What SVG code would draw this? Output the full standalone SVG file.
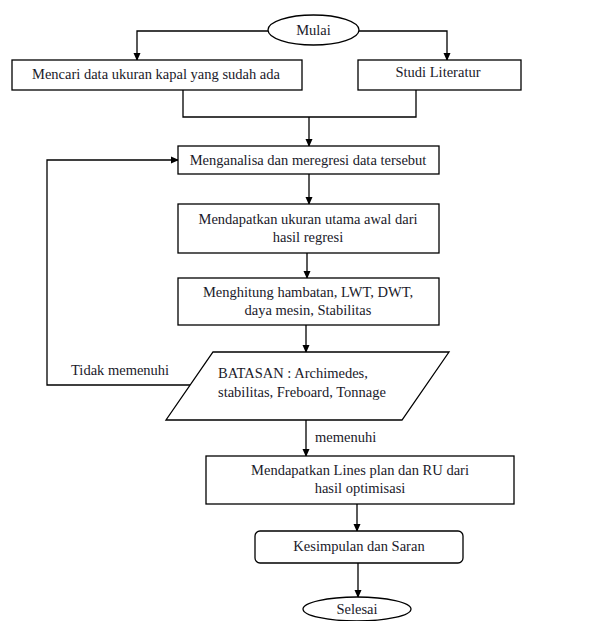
<svg xmlns="http://www.w3.org/2000/svg" width="614" height="621" viewBox="0 0 614 621">
<style>
.s{fill:#fff;stroke:#000;stroke-width:1.3}
.c{fill:none;stroke:#000;stroke-width:1.3}
text{font-family:"Liberation Serif","Times New Roman",serif;font-size:14.5px;fill:#1a1a2a}
.m{text-anchor:middle}
</style>
<defs>
<marker id="a" markerWidth="8" markerHeight="8" refX="7" refY="4" orient="auto" markerUnits="userSpaceOnUse">
<path d="M0,0.5 L8,4 L0,7.5 Z" fill="#000"/>
</marker>
</defs>
<rect width="614" height="621" fill="#fff"/>
<g id="connectors">
<polyline class="c" points="268,31 137,31 137,60" marker-end="url(#a)"/>
<polyline class="c" points="359,31 447,31 447,60" marker-end="url(#a)"/>
<polyline class="c" points="183,90 183,117 416,117 416,90"/>
<line class="c" x1="309" y1="117" x2="309" y2="146" marker-end="url(#a)"/>
<line class="c" x1="309" y1="174" x2="309" y2="204" marker-end="url(#a)"/>
<line class="c" x1="307" y1="253" x2="307" y2="278" marker-end="url(#a)"/>
<line class="c" x1="306" y1="325" x2="306" y2="352" marker-end="url(#a)"/>
<polyline class="c" points="190,385 47,385 47,160 178,160" marker-end="url(#a)"/>
<line class="c" x1="306" y1="420" x2="306" y2="456" marker-end="url(#a)"/>
<line class="c" x1="357" y1="504" x2="357" y2="531" marker-end="url(#a)"/>
<line class="c" x1="358" y1="563" x2="358" y2="597" marker-end="url(#a)"/>
<text x="71" y="375">Tidak memenuhi</text>
<text x="315" y="442">memenuhi</text>
</g>
<g id="mulai">
<ellipse class="s" cx="313.5" cy="30" rx="45.5" ry="15"/>
<text class="m" x="313.5" y="35">Mulai</text>
</g>
<g id="mencari">
<rect class="s" x="12" y="60" width="290" height="30"/>
<text class="m" x="156" y="79">Mencari data ukuran kapal yang sudah ada</text>
</g>
<g id="studi">
<rect class="s" x="358" y="60" width="163" height="30"/>
<text class="m" x="438" y="77">Studi Literatur</text>
</g>
<g id="menganalisa">
<rect class="s" x="178" y="146" width="261" height="28"/>
<text class="m" x="308" y="165">Menganalisa dan meregresi data tersebut</text>
</g>
<g id="mendapatkan-ukuran">
<rect class="s" x="178" y="204" width="261" height="49"/>
<text class="m" x="308" y="224">Mendapatkan ukuran utama awal dari</text>
<text class="m" x="308" y="242">hasil regresi</text>
</g>
<g id="menghitung">
<rect class="s" x="178" y="278" width="261" height="47"/>
<text class="m" x="308" y="297">Menghitung hambatan, LWT, DWT,</text>
<text class="m" x="308" y="315">daya mesin, Stabilitas</text>
</g>
<g id="batasan">
<polygon class="s" points="213,352 449,352 402,420 166,420"/>
<text x="218" y="378">BATASAN : Archimedes,</text>
<text x="218" y="397">stabilitas, Freboard, Tonnage</text>
</g>
<g id="lines-plan">
<rect class="s" x="206" y="456" width="308" height="48"/>
<text class="m" x="360" y="475">Mendapatkan Lines plan dan RU dari</text>
<text class="m" x="360" y="493">hasil optimisasi</text>
</g>
<g id="kesimpulan">
<rect class="s" x="255" y="531" width="208" height="32" rx="5"/>
<text class="m" x="359" y="551">Kesimpulan dan Saran</text>
</g>
<g id="selesai">
<ellipse class="s" cx="357" cy="609" rx="54" ry="12"/>
<text class="m" x="357" y="614">Selesai</text>
</g>
</svg>
